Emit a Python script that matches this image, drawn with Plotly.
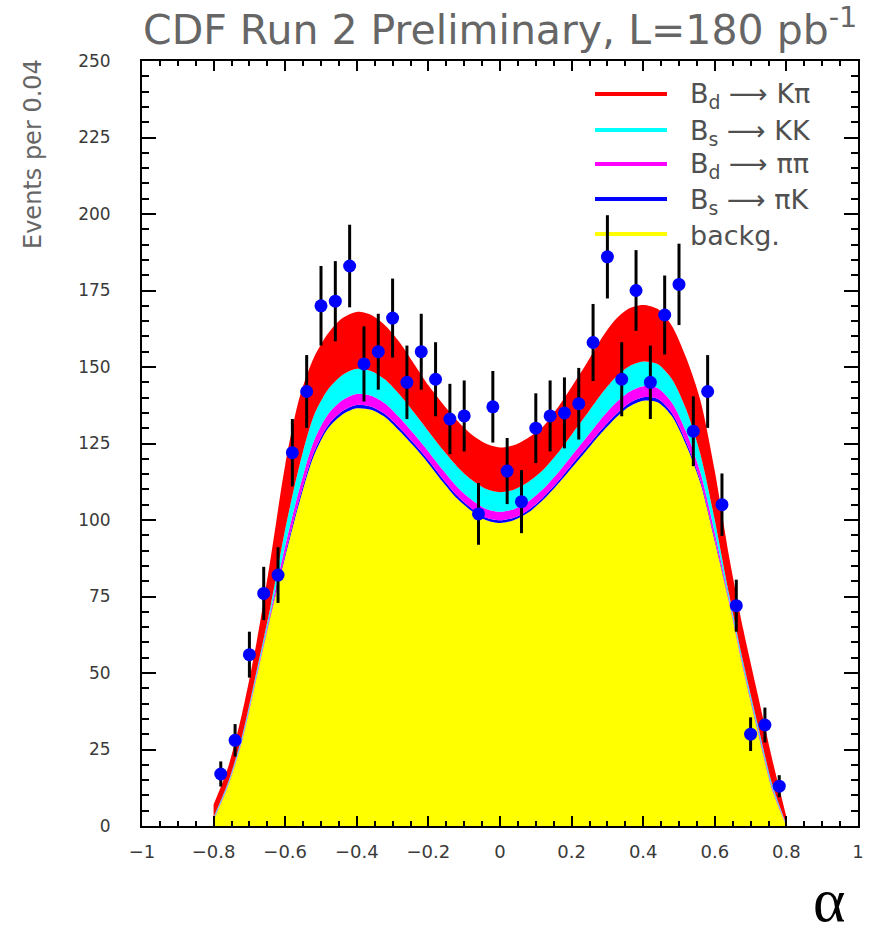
import plotly.graph_objects as go

# ---------------- data ----------------
# fit-curve sampling grid (alpha)
alpha_grid = [-0.80, -0.76, -0.72, -0.68, -0.64, -0.60, -0.56, -0.52, -0.48, -0.44,
              -0.40, -0.36, -0.32, -0.28, -0.24, -0.20, -0.16, -0.12, -0.08, -0.04,
              0.00, 0.04, 0.08, 0.12, 0.16, 0.20, 0.24, 0.28, 0.32, 0.36,
              0.40, 0.44, 0.48, 0.52, 0.56, 0.60, 0.64, 0.68, 0.72, 0.76, 0.80]

# stacked fit components (events per 0.04)
backg = [2, 13, 28, 48.5, 69, 88, 106, 121, 130, 134.5,
         136.5, 136, 133.5, 129, 124, 118.5, 112.5, 107, 103, 100,
         99, 100, 102.5, 106.5, 111.5, 117, 122.5, 128, 133, 137,
         139, 138.5, 134, 124.5, 112, 93, 73, 51, 31, 12, 0]
bs_piK = [0.1, 0.1, 0.2, 0.2, 0.4, 0.9, 1.0, 1.1, 1.0, 1.1,
          1.1, 1.0, 1.0, 1.1, 1.0, 1.0, 1.0, 1.0, 0.8, 0.8,
          0.9, 0.8, 0.8, 0.8, 0.8, 1.0, 1.0, 1.1, 1.1, 1.1,
          1.1, 1.1, 1.0, 1.0, 0.8, 0.7, 0.3, 0.2, 0.3, 0.2, 0.0]
bd_pipi = [0.3, 0.4, 0.5, 0.7, 1.1, 2.7, 3.4, 3.7, 3.6, 3.6,
           3.6, 3.6, 3.5, 3.3, 3.1, 2.9, 2.9, 2.9, 2.9, 2.9,
           2.8, 2.8, 2.8, 2.8, 2.9, 3.0, 3.3, 3.6, 3.8, 3.7,
           3.6, 3.5, 3.4, 3.3, 2.7, 2.1, 0.9, 0.8, 0.7, 0.6, 0.2]
bs_KK = [0.5, 0.6, 0.9, 1.2, 1.9, 5.4, 7.5, 8.3, 8.1, 8.2,
         8.2, 8.1, 7.8, 7.5, 7.0, 6.6, 6.6, 6.6, 6.5, 6.5,
         6.4, 6.4, 6.4, 6.2, 6.5, 6.9, 7.4, 8.0, 8.4, 8.4,
         8.1, 7.9, 7.7, 7.4, 5.9, 4.1, 1.5, 1.3, 1.2, 1.0, 0.3]
bd_Kpi = [4.1, 4.9, 7.4, 9.4, 15.6, 21.0, 22.1, 18.9, 18.3, 18.6,
          18.6, 18.3, 17.7, 17.1, 15.9, 15.0, 15.0, 15.0, 14.8, 14.8,
          14.6, 14.5, 14.5, 14.2, 14.8, 15.6, 16.6, 18.0, 18.9, 18.9,
          18.5, 18.0, 17.4, 16.8, 17.6, 16.1, 12.3, 10.7, 9.8, 8.2, 2.5]

# data histogram (bin centres, counts, errors)
bin_centers = [-0.78, -0.74, -0.70, -0.66, -0.62, -0.58, -0.54, -0.50, -0.46, -0.42,
               -0.38, -0.34, -0.30, -0.26, -0.22, -0.18, -0.14, -0.10, -0.06, -0.02,
               0.02, 0.06, 0.10, 0.14, 0.18, 0.22, 0.26, 0.30, 0.34, 0.38,
               0.42, 0.46, 0.50, 0.54, 0.58, 0.62, 0.66, 0.70, 0.74, 0.78]
counts = [17, 28, 56, 76, 82, 122, 142, 170, 171.5, 183,
          151, 155, 166, 145, 155, 146, 133, 134, 102, 137,
          116, 106, 130, 134, 135, 138, 158, 186, 146, 175,
          145, 167, 177, 129, 142, 105, 72, 30, 33, 13]
errors = [4.1, 5.3, 7.5, 8.7, 9.1, 11.0, 11.9, 13.0, 13.1, 13.5,
          12.3, 12.4, 12.9, 12.0, 12.4, 12.1, 11.5, 11.6, 10.1, 11.7,
          10.8, 10.3, 11.4, 11.6, 11.6, 11.7, 12.6, 13.6, 12.1, 13.2,
          12.0, 12.9, 13.3, 11.4, 11.9, 10.2, 8.5, 5.5, 5.7, 3.6]

legend_labels = ["B<sub>d</sub> \u27f6 K\u03c0", "B<sub>s</sub> \u27f6 KK",
                 "B<sub>d</sub> \u27f6 \u03c0\u03c0", "B<sub>s</sub> \u27f6 \u03c0K", "backg."]
legend_colors = ["#ff0000", "#00ffff", "#ff00ff", "#0000ff", "#ffff00"]

# ---------------- figure ----------------
fig = go.Figure()

components = [(backg, "#ffff00"), (bs_piK, "#0000ff"), (bd_pipi, "#ff00ff"),
              (bs_KK, "#00ffff"), (bd_Kpi, "#ff0000")]
for vals, col in components:
    fig.add_trace(go.Scatter(
        x=alpha_grid, y=vals, mode="lines", stackgroup="fit",
        line=dict(width=0, shape="spline", smoothing=0.8, color=col),
        fillcolor=col, showlegend=False, hoverinfo="skip"))

fig.add_trace(go.Scatter(
    x=bin_centers, y=counts, mode="markers",
    marker=dict(color="#0000ff", size=13, line=dict(width=0)),
    error_y=dict(type="data", array=errors, color="black", thickness=3, width=0),
    showlegend=False))

W, H = 887, 939
L, R, T, B = 142, 29, 61, 113
pw, ph = W - L - R, H - T - B


def px(xp):
    return (xp - L) / pw


def py(yp):
    return (H - B - yp) / ph


fig.update_xaxes(
    range=[-1, 1], tick0=-1, dtick=0.2, ticks="inside", ticklen=10, tickwidth=2,
    tickcolor="black", showline=True, linewidth=2, linecolor="black", mirror="allticks",
    showgrid=False, zeroline=False,
    tickfont=dict(family="DejaVu Sans", size=18, color="#3a3a3a"), ticklabelstandoff=8,
    minor=dict(dtick=0.05, ticks="inside", ticklen=5, tickwidth=2, tickcolor="black",
               showgrid=False))
fig.update_yaxes(
    range=[0, 250], tick0=0, dtick=25, ticks="inside", ticklen=14, tickwidth=2,
    tickcolor="black", showline=True, linewidth=2, linecolor="black", mirror="allticks",
    showgrid=False, zeroline=False,
    tickfont=dict(family="DejaVu Sans", size=17, color="#3a3a3a"), ticklabelstandoff=26,
    minor=dict(dtick=5, ticks="inside", ticklen=7, tickwidth=2, tickcolor="black",
               showgrid=False))

shapes = []
annotations = []
legend_y = [94, 130, 164, 199, 234]
for lab, col, yy in zip(legend_labels, legend_colors, legend_y):
    shapes.append(dict(type="line", xref="paper", yref="paper",
                       x0=px(595), x1=px(667), y0=py(yy), y1=py(yy),
                       line=dict(color=col, width=4), layer="below"))
    annotations.append(dict(text=lab, xref="paper", yref="paper", x=px(688), y=py(yy + 2),
                            xanchor="left", yanchor="middle", showarrow=False,
                            font=dict(family="DejaVu Sans", size=27, color="#505050")))

annotations.append(dict(text="Events per 0.04", xref="paper", yref="paper",
                        x=px(33), y=py(154), xanchor="center", yanchor="middle",
                        textangle=-90, showarrow=False,
                        font=dict(family="DejaVu Sans", size=24, color="#666666")))
annotations.append(dict(text="\u03b1", xref="paper", yref="paper",
                        x=px(829), y=py(936), xanchor="center", yanchor="bottom",
                        showarrow=False,
                        font=dict(family="Liberation Serif", size=62, color="black")))

fig.update_layout(
    width=W, height=H, margin=dict(l=L, r=R, t=T, b=B, autoexpand=False),
    paper_bgcolor="white", plot_bgcolor="white",
    title=dict(text="CDF Run 2 Preliminary, L=180 pb<sup>-1</sup>",
               x=px(143), xref="paper", xanchor="left",
               y=1 - 30 / H, yref="container", yanchor="middle",
               font=dict(family="DejaVu Sans", size=41, color="#666666")),
    shapes=shapes, annotations=annotations, showlegend=False)

fig.write_html("out.html")
